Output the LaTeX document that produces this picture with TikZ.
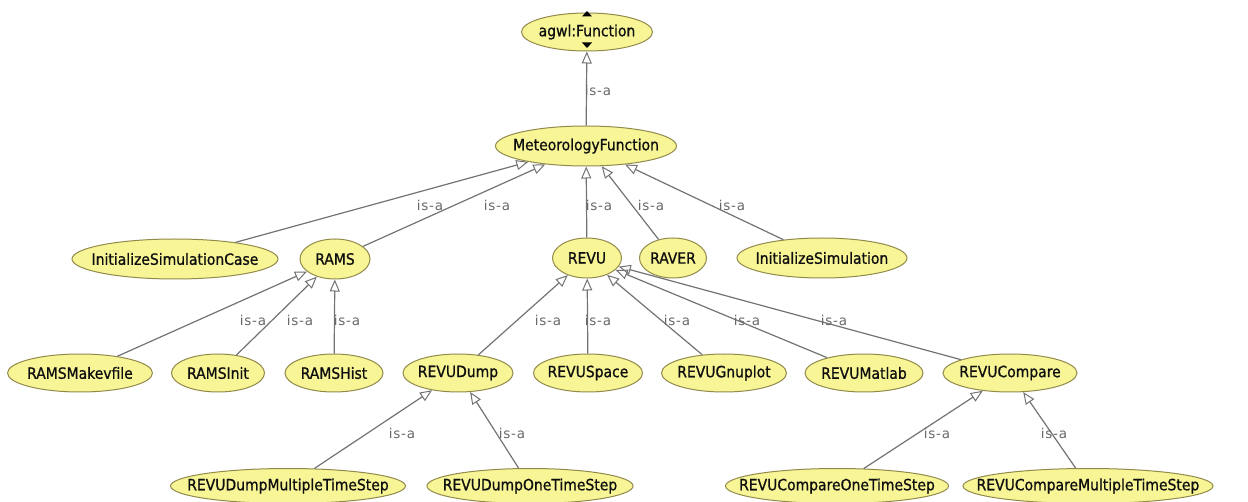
\documentclass[tikz,border=0pt]{standalone}
\usepackage{fontspec}
\usetikzlibrary{shapes.geometric,arrows.meta}
\newfontfamily\clsfamily[FakeBold=0.9]{DejaVu Sans Condensed}
\newfontfamily\isafamily[LetterSpace=6]{DejaVu Sans}
\definecolor{clsfill}{RGB}{247,245,150}
\definecolor{clsline}{RGB}{145,138,75}
\definecolor{clstext}{RGB}{15,15,15}
\definecolor{edgegray}{RGB}{115,115,115}
\definecolor{isagray}{RGB}{105,105,105}
% the ellipse size is fixed by minimum width/height; the label box has no width
\newcommand\cname[1]{\makebox[0pt][c]{#1}}
\tikzset{
  cls/.style={ellipse, draw=clsline, fill=clsfill, line width=1pt, inner sep=0pt,
    text=clstext, font=\clsfamily\fontsize{15.5}{18}\selectfont, minimum height=40pt},
  isa/.style={text=isagray, inner sep=0pt, font=\isafamily\fontsize{13.5}{15}\selectfont},
  subof/.style={draw=edgegray, line width=1.2pt,
    -{Triangle[open, length=12pt, width=10pt, line width=1pt]}},
  knob/.style={fill=black, draw=none}
}
\begin{document}
\begin{tikzpicture}[x=1pt, y=-1pt]
\useasboundingbox[fill=white] (0,0) rectangle (1248,502);

% class nodes
\node[cls, minimum width=131pt, minimum height=38pt] (agwl) at (587,32) {\cname{agwl:Function}};
\node[cls, minimum width=181pt] (met) at (586,146) {\cname{MeteorologyFunction}};

\node[cls, minimum width=206pt] (isc)   at (175,259) {\cname{InitializeSimulationCase}};
\node[cls, minimum width=70pt]  (rams)  at (335,259) {\cname{RAMS}};
\node[cls, minimum width=69pt]  (revu)  at (587,258) {\cname{REVU}};
\node[cls, minimum width=67pt]  (raver) at (673,258) {\cname{RAVER}};
\node[cls, minimum width=170pt] (isim)  at (822,258) {\cname{InitializeSimulation}};

\node[cls, minimum width=145pt, minimum height=38pt] (rmake) at (80,373)  {\cname{RAMSMakevfile}};
\node[cls, minimum width=93pt,  minimum height=38pt] (rinit) at (218,373) {\cname{RAMSInit}};
\node[cls, minimum width=98pt,  minimum height=38pt] (rhist) at (334,373) {\cname{RAMSHist}};
\node[cls, minimum width=110pt, minimum height=38pt] (rdump) at (458,373) {\cname{REVUDump}};
\node[cls, minimum width=109pt, minimum height=38pt] (rspace) at (588,373) {\cname{REVUSpace}};
\node[cls, minimum width=125pt, minimum height=38pt] (rgnu)  at (724,373) {\cname{REVUGnuplot}};
\node[cls, minimum width=118pt, minimum height=38pt] (rmat)  at (864,373) {\cname{REVUMatlab}};
\node[cls, minimum width=134pt, minimum height=38pt] (rcmp)  at (1010,373) {\cname{REVUCompare}};

\node[cls, minimum width=235pt, minimum height=35pt] (dmulti) at (288,486)  {\cname{REVUDumpMultipleTimeStep}};
\node[cls, minimum width=206pt, minimum height=35pt] (done)   at (530,486)  {\cname{REVUDumpOneTimeStep}};
\node[cls, minimum width=223pt, minimum height=35pt] (cone)   at (837,486)  {\cname{REVUCompareOneTimeStep}};
\node[cls, minimum width=250pt, minimum height=35pt] (cmulti) at (1088,486) {\cname{REVUCompareMultipleTimeStep}};

% expand / collapse markers on the root class
\fill[knob] ([yshift=-1pt]agwl.north) ++(-5,3) -- ++(10,0) -- ++(-5,-5.5) -- cycle;
\fill[knob] ([yshift=2pt]agwl.south) ++(-5,-7) -- ++(10,0) -- ++(-5,5.5) -- cycle;

% subclass edges
\draw[subof] (met) -- (agwl);
\draw[subof] (isc) -- (met);
\draw[subof] (rams) -- (met);
\draw[subof] (revu) -- (met);
\draw[subof] (raver) -- (met);
\draw[subof] (isim) -- (met);

\draw[subof] (rmake) -- (rams);
\draw[subof] (rinit) -- (rams);
\draw[subof] (rhist) -- (rams);

\draw[subof] (rdump) -- (revu);
\draw[subof] (rspace) -- (revu);
\draw[subof] (rgnu) -- (revu);
\draw[subof] (rmat) -- (revu);
\draw[subof] (rcmp) -- (revu);

\draw[subof] (dmulti) -- (rdump);
\draw[subof] (done) -- (rdump);
\draw[subof] (cone) -- (rcmp);
\draw[subof] (cmulti) -- (rcmp);

% edge labels
\node[isa] (l0)  at (598,90)  {is-a};
\node[isa] (l1)  at (430,205) {is-a};
\node[isa] (l2)  at (497,205) {is-a};
\node[isa] (l3)  at (599,205) {is-a};
\node[isa] (l4)  at (651,205) {is-a};
\node[isa] (l5)  at (732,205) {is-a};
\node[isa] (l6)  at (253,320) {is-a};
\node[isa] (l7)  at (300,320) {is-a};
\node[isa] (l8)  at (347,320) {is-a};
\node[isa] (l9)  at (548,320) {is-a};
\node[isa] (l10) at (598,320) {is-a};
\node[isa] (l11) at (677,320) {is-a};
\node[isa] (l12) at (747,320) {is-a};
\node[isa] (l13) at (834,320) {is-a};
\node[isa] (l14) at (402,433) {is-a};
\node[isa] (l15) at (512,433) {is-a};
\node[isa] (l16) at (937,433) {is-a};
\node[isa] (l17) at (1054,433) {is-a};
\end{tikzpicture}
\end{document}
